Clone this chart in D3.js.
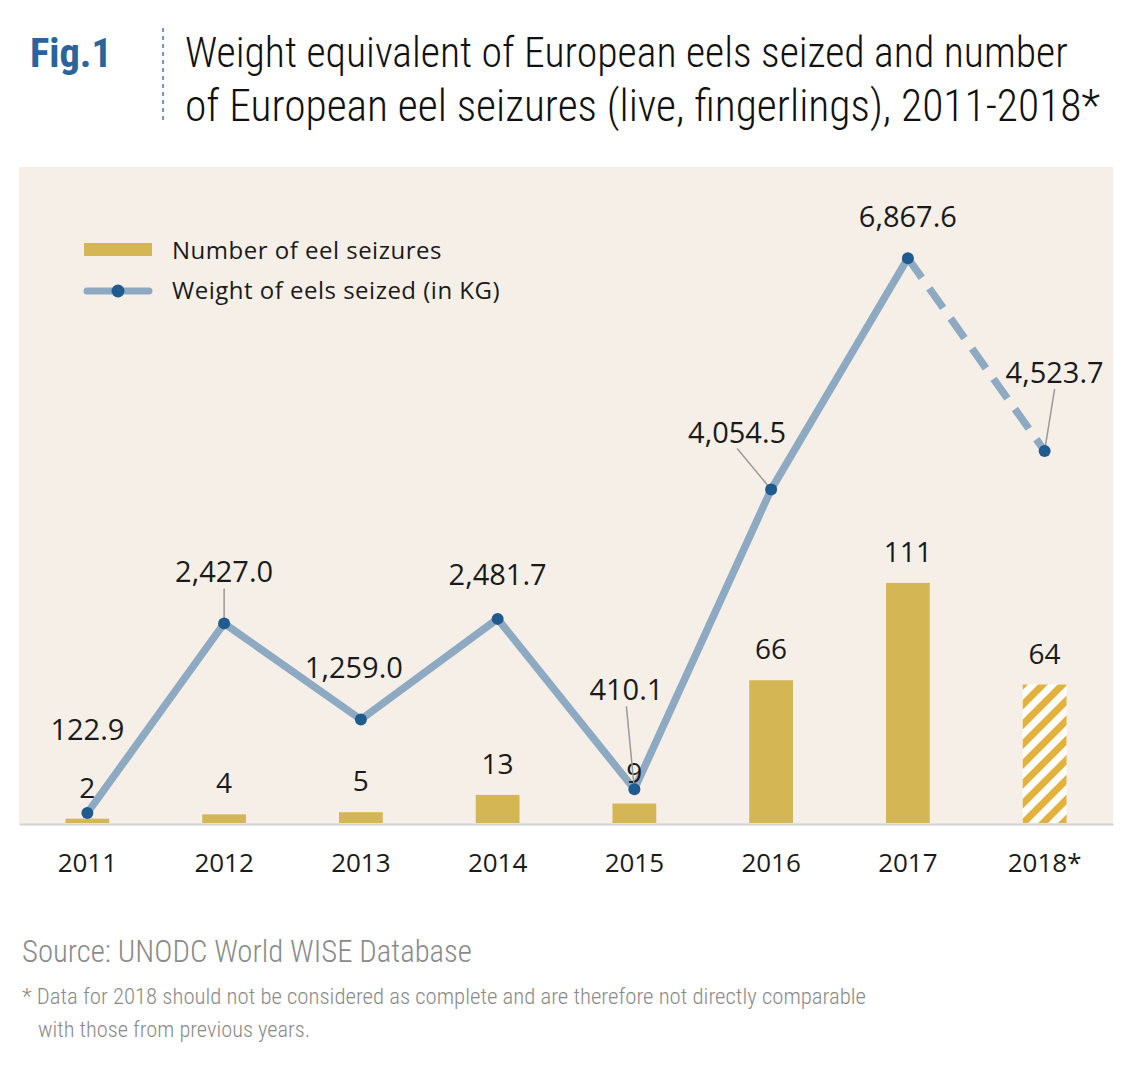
<!DOCTYPE html>
<html>
<head>
<meta charset="utf-8">
<script src="https://cdn.jsdelivr.net/npm/d3@7"></script>
<style>
  body { margin: 0; background: #fff; }
  #main { width: 1130px; height: 1070px; }
</style>
</head>
<body>
<div id="main"></div>
<script>
// data
const years = ["2011", "2012", "2013", "2014", "2015", "2016", "2017", "2018*"];
const seizures = [2, 4, 5, 13, 9, 66, 111, 64];
const weightKg = [122.9, 2427.0, 1259.0, 2481.7, 410.1, 4054.5, 6867.6, 4523.7];
const incompleteYear = "2018*";

// label placement for the weight values (offset from the point, leader line or not)
const weightLabelPos = [
  {dx: 0, dy: -73, leader: false},
  {dx: 0, dy: -41, leader: true},
  {dx: -7, dy: -41, leader: false},
  {dx: 0, dy: -34, leader: false},
  {dx: -8, dy: -89, leader: true},
  {dx: -34, dy: -47, leader: true},
  {dx: 0, dy: -31, leader: false},
  {dx: 10, dy: -68, leader: true}
];

const colors = {
  panel: "#f5efe8",
  bar: "#d5b655",
  stripe: "#e2b23c",
  line: "#8eaac3",
  dot: "#1f5b8e",
  leader: "#9a9a9a",
  text: "#1a1a1a",
  grey: "#8a8a8a",
  fig: "#2b6498"
};

const cfg = {width: 1130, height: 1070, left: 19, right: 1113, top: 167, base: 824};

const svg = d3.select("#main")
  .append("svg")
  .attr("width", cfg.width)
  .attr("height", cfg.height);

// shrink or grow a text's font so that it spans the wanted width
function fitWidth(sel, width) {
  sel.each(function(d) {
    const node = d3.select(this);
    const w = typeof width === "function" ? width(d) : width;
    const size = parseFloat(node.style("font-size"));
    const len = this.getComputedTextLength();
    if (len > 0) node.style("font-size", (size * w / len).toFixed(2) + "px");
  });
}

// hatch for the incomplete year
const defs = svg.append("defs");
const pat = defs.append("pattern")
  .attr("id", "hatch")
  .attr("patternUnits", "userSpaceOnUse")
  .attr("width", 14)
  .attr("height", 14)
  .attr("patternTransform", "rotate(45)");
pat.append("rect").attr("width", 14).attr("height", 14).attr("fill", "#fff");
pat.append("rect").attr("width", 7).attr("height", 14).attr("fill", colors.stripe);

// header
const condensed = "'Roboto Condensed', 'Liberation Sans Narrow', Roboto, sans-serif";
svg.append("text")
  .attr("x", 30).attr("y", 67)
  .style("font-family", condensed)
  .style("font-weight", 700)
  .style("font-size", "46px")
  .style("fill", colors.fig)
  .text("Fig.1")
  .call(fitWidth, 82);

svg.append("line")
  .attr("x1", 163).attr("x2", 163)
  .attr("y1", 28).attr("y2", 122)
  .attr("stroke", "#4a7ab0")
  .attr("stroke-width", 1.5)
  .attr("stroke-dasharray", "4 4");

const titleLines = [
  {t: "Weight equivalent of European eels seized and number", y: 67, w: 883},
  {t: "of European eel seizures (live, fingerlings), 2011-2018*", y: 121, w: 915}
];
svg.selectAll(".title")
  .data(titleLines)
  .enter()
  .append("text")
    .attr("class", "title")
    .attr("x", 185)
    .attr("y", d => d.y)
    .style("font-family", condensed)
    .style("font-weight", 300)
    .style("font-size", "47px")
    .style("fill", "#111")
    .text(d => d.t)
    .call(fitWidth, d => d.w);

// panel
svg.append("rect")
  .attr("x", cfg.left).attr("y", cfg.top)
  .attr("width", cfg.right - cfg.left)
  .attr("height", cfg.base - cfg.top)
  .attr("fill", colors.panel);

// scales
const x = d3.scaleBand().domain(years).range([cfg.left, cfg.right]).paddingInner(0).paddingOuter(0);
const yBar = d3.scaleLinear().domain([0, 300]).range([823, 174]);
const yLine = d3.scaleLinear().domain([0, 8000]).range([823, 165]);
const barW = x.bandwidth() * 0.32;
const cx = d => x(d) + x.bandwidth() / 2;
const fmt = d3.format(",.1f");

const rows = years.map((y, i) => ({year: y, n: seizures[i], kg: weightKg[i], pos: weightLabelPos[i]}));

// bars
svg.selectAll(".bar")
  .data(rows)
  .enter()
  .append("rect")
    .attr("class", "bar")
    .attr("x", d => cx(d.year) - barW / 2)
    .attr("y", d => yBar(d.n))
    .attr("width", barW)
    .attr("height", d => yBar(0) - yBar(d.n))
    .attr("fill", d => d.year === incompleteYear ? "url(#hatch)" : colors.bar);

const numFont = "'Open Sans', sans-serif";

// x axis
const xAxis = d3.axisBottom(x).tickSize(0).tickSizeOuter(0).tickPadding(29.5);
const ax = svg.append("g")
  .attr("transform", `translate(0,${cfg.base})`)
  .call(xAxis);
ax.select(".domain").attr("stroke", "#d2d2d2").attr("stroke-width", 2);
ax.selectAll("text")
  .style("font-family", numFont)
  .style("font-size", "26px")
  .style("fill", colors.text);

// weight line
const line = d3.line().x(d => cx(d.year)).y(d => yLine(d.kg));
const solid = rows.filter(d => d.year !== incompleteYear);
const dashed = rows.slice(rows.length - 2);

svg.append("path")
  .attr("d", line(solid))
  .attr("fill", "none")
  .attr("stroke", colors.line)
  .attr("stroke-width", 7.5)
  .attr("stroke-linejoin", "round");

svg.append("path")
  .attr("d", line(dashed))
  .attr("fill", "none")
  .attr("stroke", colors.line)
  .attr("stroke-width", 7.5)
  .attr("stroke-dasharray", "24 13");

// bar values sit on top of the line
svg.selectAll(".barlab")
  .data(rows)
  .enter()
  .append("text")
    .attr("class", "barlab")
    .attr("x", d => cx(d.year))
    .attr("y", d => yBar(d.n) - 21)
    .attr("text-anchor", "middle")
    .style("font-family", numFont)
    .style("font-size", "28px")
    .style("fill", colors.text)
    .text(d => d.n);

// leaders
svg.selectAll(".leader")
  .data(rows.filter(d => d.pos.leader))
  .enter()
  .append("line")
    .attr("class", "leader")
    .attr("x1", d => cx(d.year) + d.pos.dx)
    .attr("y1", d => yLine(d.kg) + d.pos.dy + 6)
    .attr("x2", d => cx(d.year))
    .attr("y2", d => yLine(d.kg))
    .attr("stroke", colors.leader)
    .attr("stroke-width", 1.5);

svg.selectAll(".dot")
  .data(rows)
  .enter()
  .append("circle")
    .attr("class", "dot")
    .attr("cx", d => cx(d.year))
    .attr("cy", d => yLine(d.kg))
    .attr("r", 6)
    .attr("fill", colors.dot);

svg.selectAll(".kglab")
  .data(rows)
  .enter()
  .append("text")
    .attr("class", "kglab")
    .attr("x", d => cx(d.year) + d.pos.dx)
    .attr("y", d => yLine(d.kg) + d.pos.dy)
    .attr("text-anchor", "middle")
    .style("font-family", numFont)
    .style("font-size", "29px")
    .style("fill", colors.text)
    .text(d => fmt(d.kg));

// legend
const leg = svg.append("g");
leg.append("rect")
  .attr("x", 84).attr("y", 243)
  .attr("width", 68).attr("height", 13)
  .attr("fill", colors.bar);
leg.append("line")
  .attr("x1", 87).attr("x2", 149)
  .attr("y1", 291).attr("y2", 291)
  .attr("stroke", colors.line)
  .attr("stroke-width", 7)
  .attr("stroke-linecap", "round");
leg.append("circle")
  .attr("cx", 118).attr("cy", 291).attr("r", 6.5)
  .attr("fill", colors.dot);
leg.selectAll("text")
  .data(["Number of eel seizures", "Weight of eels seized (in KG)"])
  .enter()
  .append("text")
    .attr("x", 172)
    .attr("y", (d, i) => 259 + i * 40)
    .style("font-family", numFont)
    .style("font-size", "24px")
    .style("letter-spacing", "0.5px")
    .style("fill", colors.text)
    .text(d => d);

// source and note
const notes = [
  {t: "Source: UNODC World WISE Database", x: 22, y: 962, w: 450, s: 34},
  {t: "* Data for 2018 should not be considered as complete and are therefore not directly comparable", x: 22, y: 1004, w: 844, s: 25},
  {t: "with those from previous years.", x: 38, y: 1037, w: 272, s: 25}
];
svg.selectAll(".note")
  .data(notes)
  .enter()
  .append("text")
    .attr("class", "note")
    .attr("x", d => d.x)
    .attr("y", d => d.y)
    .style("font-family", condensed)
    .style("font-weight", 300)
    .style("font-size", d => d.s + "px")
    .style("fill", colors.grey)
    .text(d => d.t)
    .call(fitWidth, d => d.w);
</script>
</body>
</html>
